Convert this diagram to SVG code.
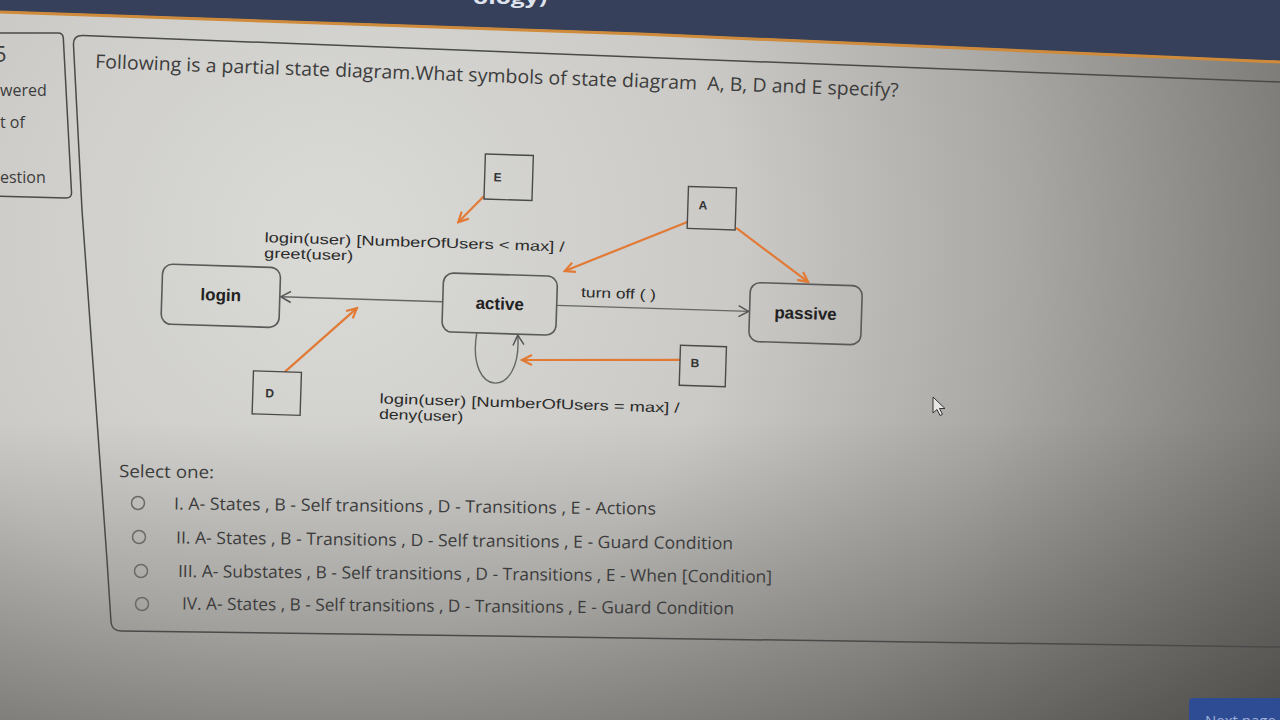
<svg xmlns="http://www.w3.org/2000/svg" width="1280" height="720" viewBox="0 0 1280 720">
<defs>
<radialGradient id="bg" cx="330" cy="240" r="1150" gradientUnits="userSpaceOnUse">
<stop offset="0" stop-color="#dadad7"/>
<stop offset="0.35" stop-color="#cbcac6"/>
<stop offset="0.6" stop-color="#aaa8a4"/>
<stop offset="0.85" stop-color="#7d7b77"/>
<stop offset="1" stop-color="#656360"/>
</radialGradient>
<linearGradient id="shade" x1="0" y1="420" x2="0" y2="720" gradientUnits="userSpaceOnUse">
<stop offset="0" stop-color="#000" stop-opacity="0"/>
<stop offset="1" stop-color="#000" stop-opacity="0.3"/>
</linearGradient>
<marker id="ao" markerUnits="userSpaceOnUse" markerWidth="14" markerHeight="14" viewBox="0 0 14 14" refX="12" refY="7" orient="auto">
<path d="M2,2 L12,7 L2,12" fill="none" stroke="#e27a36" stroke-width="2.2"/>
</marker>
<marker id="ak" markerUnits="userSpaceOnUse" markerWidth="14" markerHeight="14" viewBox="0 0 14 14" refX="12" refY="7" orient="auto">
<path d="M2,1.5 L12,7 L2,12.5" fill="none" stroke="#555" stroke-width="1.5"/>
</marker>
</defs>
<style>
.node{fill:none;stroke:#5a5a5a;stroke-width:1.6}
.box{fill:none;stroke:#4a4a4a;stroke-width:1.4}
.lbl{font-family:"Liberation Sans",Arial,sans-serif;font-size:17px;font-weight:bold;fill:#222;text-anchor:middle}
.let{font-family:"Liberation Sans",Arial,sans-serif;font-size:12px;font-weight:bold;fill:#333;text-anchor:middle}
.tr{font-family:"Liberation Sans",Arial,sans-serif;font-size:14px;fill:#2a2a2a}
.page{font-family:"Open Sans",sans-serif;fill:#3c3c3c}
.ora{stroke:#e27a36;stroke-width:2.2;fill:none;marker-end:url(#ao)}
.blk{stroke:#666;stroke-width:1.4;fill:none;marker-end:url(#ak)}
.radio{fill:none;stroke:#6a6a6a;stroke-width:1.5}
.frame{fill:none;stroke:#4a4a4a;stroke-width:1.5}
</style>
<rect x="0" y="0" width="1280" height="720" fill="url(#bg)"/>
<rect x="0" y="0" width="1280" height="720" fill="url(#shade)"/>
<!-- top bar -->
<polygon points="0,0 1280,0 1280,61 640,33 0,11" fill="#36405a"/>
<polyline points="0,12 640,34 1280,62" fill="none" stroke="#cf8a3a" stroke-width="3"/>
<text x="473" y="4" font-family="Open Sans, sans-serif" font-size="17" font-weight="bold" fill="#dfe3ee" textLength="74" lengthAdjust="spacingAndGlyphs">ology)</text>
<!-- sidebar -->
<path class="frame" d="M-5,33 L58,33 Q63,33 63.3,38 L71.5,192 Q72,198 66,198 L-5,196"/>
<g class="page">
<text x="-6" y="62" font-size="22">5</text>
<text x="0" y="96" font-size="16">wered</text>
<text x="0" y="128" font-size="16">t of</text>
<text x="0" y="183" font-size="16">estion</text>
</g>
<!-- main frame -->
<path class="frame" d="M1280,82 L83,35.4 Q73,35 73.5,45 L82,210 L107,560 L111,622 Q112,631 121,631 L1280,647"/>
<text class="page" x="95" y="68" font-size="19" textLength="804" lengthAdjust="spacingAndGlyphs" transform="rotate(2.05 95 68)" style="white-space:pre">Following is a partial state diagram.What symbols of state diagram  A, B, D and E specify?</text>
<!-- diagram -->
<g transform="rotate(1.8 640 360)">
<g id="connectors">
<path class="blk" d="M441,308 L279,308"/>
<path class="blk" d="M555,308 L747,308"/>
<path class="blk" d="M476,338 C467,404 524,404 517,339"/>
<path class="ora" d="M479,201 L454,228"/>
<path class="ora" d="M683,220.5 L562,273.4"/>
<path class="ora" d="M732,225 L805.6,276.7"/>
<path class="ora" d="M680,358.7 L522,363.7"/>
<path class="ora" d="M285.4,383 L355.4,317"/>
<text class="tr" x="579" y="299" font-size="16" textLength="75" lengthAdjust="spacingAndGlyphs">turn off ( )</text>
<text class="tr" x="261" y="254" textLength="300" lengthAdjust="spacingAndGlyphs">login(user) [NumberOfUsers &lt; max] /</text>
<text class="tr" x="261" y="269.5" textLength="89" lengthAdjust="spacingAndGlyphs">greet(user)</text>
<text class="tr" x="381" y="411.5" textLength="300" lengthAdjust="spacingAndGlyphs">login(user) [NumberOfUsers = max] /</text>
<text class="tr" x="381" y="427" textLength="84" lengthAdjust="spacingAndGlyphs">deny(user)</text>
</g>
<g id="login"><rect class="node" x="160" y="279" width="118" height="60" rx="10"/><text class="lbl" x="219" y="314">login</text></g>
<g id="active"><rect class="node" x="441" y="279" width="114" height="59" rx="10"/><text class="lbl" x="498" y="314">active</text></g>
<g id="passive"><rect class="node" x="748" y="279" width="112" height="59" rx="10"/><text class="lbl" x="804" y="314">passive</text></g>
<g id="E"><rect class="box" x="479" y="159" width="48" height="45"/><text class="let" x="492" y="186">E</text></g>
<g id="A"><rect class="box" x="683" y="185" width="48" height="42"/><text class="let" x="698" y="207.5">A</text></g>
<g id="B"><rect class="box" x="680" y="344" width="46" height="40"/><text class="let" x="695" y="365.5">B</text></g>
<g id="D"><rect class="box" x="254" y="383" width="48" height="43"/><text class="let" x="271" y="409">D</text></g>
</g>
<!-- options -->
<g class="page" font-size="17">
<text x="119" y="477" textLength="95" lengthAdjust="spacingAndGlyphs" transform="rotate(0.8 119 477)">Select one:</text>
<text x="174" y="509.5" textLength="482" lengthAdjust="spacingAndGlyphs" transform="rotate(0.6 174 509.5)">I. A- States , B - Self transitions , D - Transitions , E - Actions</text>
<text x="176" y="543.5" textLength="557" lengthAdjust="spacingAndGlyphs" transform="rotate(0.6 176 543.5)">II. A- States , B - Transitions , D - Self transitions , E - Guard Condition</text>
<text x="178" y="577" textLength="594" lengthAdjust="spacingAndGlyphs" transform="rotate(0.55 178 577)">III. A- Substates , B - Self transitions , D - Transitions , E - When [Condition]</text>
<text x="182" y="609.5" textLength="552" lengthAdjust="spacingAndGlyphs" transform="rotate(0.5 182 609.5)">IV. A- States , B - Self transitions , D - Transitions , E - Guard Condition</text>
</g>
<circle class="radio" cx="138" cy="503" r="6.5"/>
<circle class="radio" cx="139" cy="537" r="6.5"/>
<circle class="radio" cx="141" cy="571" r="6.5"/>
<circle class="radio" cx="142" cy="604" r="6.5"/>
<!-- cursor -->
<path d="M933,397 L933,413 L937,409.5 L940,415.5 L942.5,414.3 L939.5,408.5 L945,408.5 Z" fill="#e6e6e4" stroke="#333" stroke-width="1"/>
<!-- next page button -->
<rect x="1189" y="698" width="110" height="40" rx="4" fill="#2e4c94"/>
<text x="1205" y="726" font-family="Open Sans, sans-serif" font-size="15" fill="#9fb0d8">Next page</text>
</svg>
